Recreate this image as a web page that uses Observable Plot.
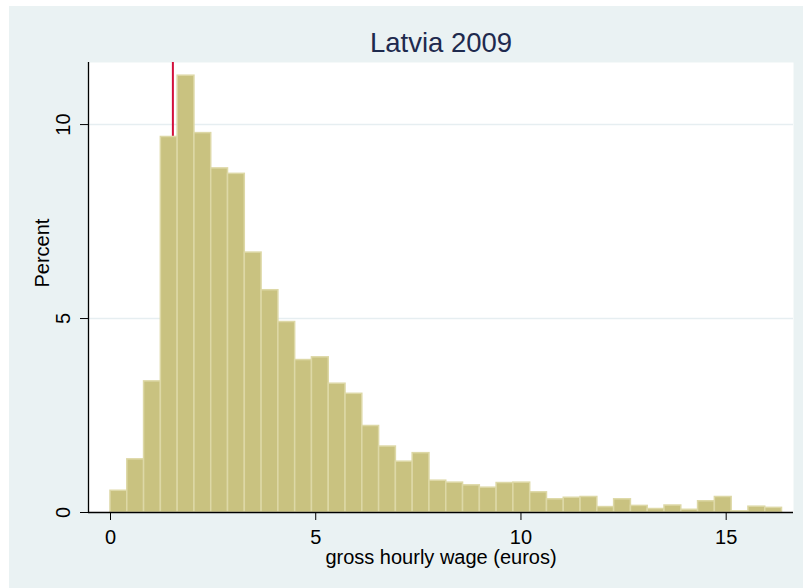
<!DOCTYPE html>
<html>
<head>
<meta charset="utf-8">
<script src="https://cdn.jsdelivr.net/npm/d3@7"></script>
<script src="https://cdn.jsdelivr.net/npm/@observablehq/plot@0.6"></script>
<style>
  html, body { margin: 0; padding: 0; background: white; }
  #chart { width: 803px; height: 588px; }
</style>
</head>
<body>
<div id="chart"></div>
<script>
// Histogram of gross hourly wage, Latvia 2009 (percent per bin)
const percent = [
  0.56, 1.37, 3.38, 9.68, 11.26, 9.78, 8.87, 8.73, 6.70, 5.73,
  4.91, 3.93, 4.00, 3.32, 3.06, 2.23, 1.70, 1.31, 1.53, 0.82,
  0.77, 0.70, 0.64, 0.76, 0.77, 0.52, 0.34, 0.38, 0.40, 0.14,
  0.34, 0.17, 0.09, 0.18, 0.07, 0.29, 0.40, 0.03, 0.15, 0.12
];
const binStart = 0;
const binWidth = 0.409;
const markerLine = [1.52];
const xTicks = [0, 5, 10, 15];
const yTicks = [0, 5, 10];
const titleText = "Latvia 2009";
const xLabel = "gross hourly wage (euros)";
const yLabel = "Percent";

const bins = percent.map((p, i) => ({
  x1: binStart + i * binWidth,
  x2: binStart + (i + 1) * binWidth,
  y: p
}));

const xDomain = [-0.536, 16.64];
const yDomain = [0, 11.6];

const chart = Plot.plot({
  width: 794,
  height: 582,
  marginLeft: 79,
  marginRight: 10,
  marginTop: 56,
  marginBottom: 76,
  x: { domain: xDomain },
  y: { domain: yDomain },
  style: { fontFamily: "'Liberation Sans', Arial, sans-serif", fontSize: "20px", color: "black" },
  marks: [
    Plot.frame({ fill: "white", stroke: null }),
    Plot.gridY(yTicks.filter(d => d > 0), { stroke: "#E6EEF1", strokeOpacity: 1, strokeWidth: 1.5 }),
    Plot.ruleX(markerLine, { stroke: "#D2103C", strokeWidth: 2 }),
    Plot.rectY(bins, { x1: "x1", x2: "x2", y: "y", fill: "#C9C280", stroke: "#DDD8A6", strokeWidth: 1.5 }),
    Plot.ruleY([0], { stroke: "black", strokeWidth: 1.3 }),
    Plot.ruleX([xDomain[0]], { stroke: "black", strokeWidth: 1.3 }),
    Plot.axisX({ ticks: xTicks, tickSize: 8, tickPadding: 9, label: null, fontSize: 20 }),
    Plot.axisY({ ticks: yTicks, tickSize: 8, tickFormat: () => "", label: null }),
    Plot.text(yTicks, { y: d => d, text: d => String(d), frameAnchor: "left", dx: -25, rotate: -90, textAnchor: "middle", lineAnchor: "middle", fontSize: 20, fill: "black" }),
    Plot.text([titleText], { text: d => d, frameAnchor: "top", dy: -19, lineAnchor: "middle", fontSize: 27.5, fill: "#1E2A4E" }),
    Plot.text([xLabel], { text: d => d, frameAnchor: "bottom", dy: 45.5, lineAnchor: "middle", fontSize: 20, fill: "black" }),
    Plot.text([yLabel], { text: d => d, frameAnchor: "left", dx: -46, rotate: -90, lineAnchor: "middle", fontSize: 20, fill: "black" })
  ]
});
chart.style.background = "#EAF2F3";
chart.style.borderLeft = "9px solid white";
chart.style.borderTop = "6px solid white";
chart.style.overflow = "visible";
chart.style.maxWidth = "none";
document.getElementById("chart").appendChild(chart);
</script>
</body>
</html>
